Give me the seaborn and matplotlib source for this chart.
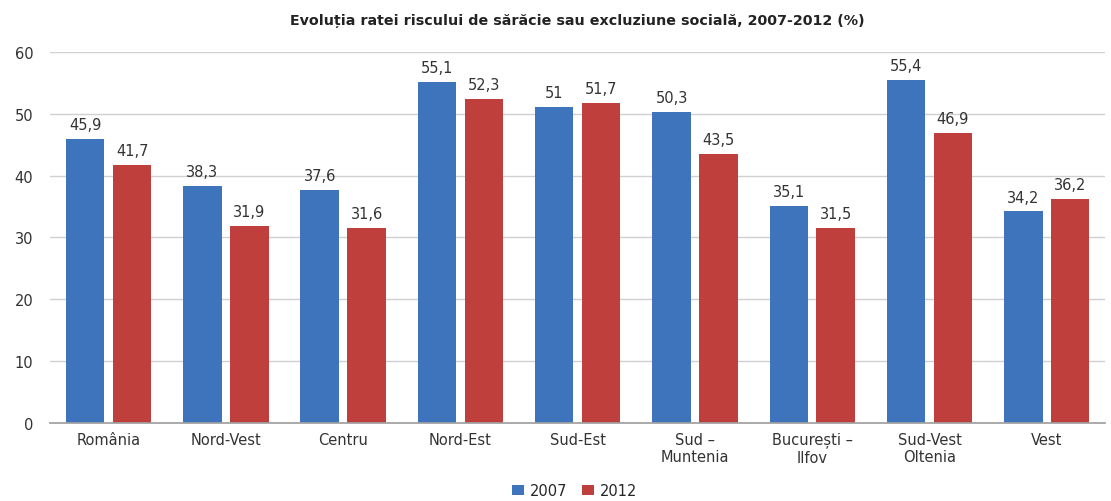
import pandas as pd
import seaborn as sns
import matplotlib.pyplot as plt

regions = ['România', 'Nord-Vest', 'Centru', 'Nord-Est', 'Sud-Est',
           'Sud –\nMuntenia', 'București –\nIlfov', 'Sud-Vest\nOltenia', 'Vest']
val_2007 = [45.9, 38.3, 37.6, 55.1, 51.0, 50.3, 35.1, 55.4, 34.2]
val_2012 = [41.7, 31.9, 31.6, 52.3, 51.7, 43.5, 31.5, 46.9, 36.2]
years = ['2007', '2012']
colors = ['#3D74BB', '#BF3F3C']

df = pd.concat([
    pd.DataFrame({'Regiune': regions, 'An': years[0], 'Rata': val_2007}),
    pd.DataFrame({'Regiune': regions, 'An': years[1], 'Rata': val_2012}),
])

sns.set_theme(style='white')
plt.rcParams['font.family'] = ['DejaVu Sans']

fig = plt.figure(figsize=(11.11, 5.02), dpi=100)
ax = fig.add_axes([0.045, 0.155, 0.95, 0.74])
sns.barplot(data=df, x='Regiune', y='Rata', hue='An', palette=colors,
            width=0.8, gap=0.18, linewidth=0, ax=ax, saturation=1)

for cont in ax.containers:
    labels = [f'{v:g}'.replace('.', ',') for v in cont.datavalues]
    ax.bar_label(cont, labels=labels, padding=5, fontsize=10.5, color='#333333')

ax.set_ylim(0, 60)
ax.set_yticks(range(0, 61, 10))
ax.yaxis.grid(True, color='#D0D0D0', linewidth=1)
ax.set_axisbelow(True)
ax.set_xlim(-0.5, len(regions) - 0.5)
for side in ['left', 'right', 'top']:
    ax.spines[side].set_visible(False)
ax.spines['bottom'].set_color('#A0A0A0')
ax.tick_params(axis='both', length=0, labelsize=10.5, colors='#333333')
ax.tick_params(axis='y', pad=12)
ax.tick_params(axis='x', pad=6)
ax.set_xlabel('')
ax.set_ylabel('')
ax.set_title('Evoluția ratei riscului de sărăcie sau excluziune socială, 2007-2012 (%)',
             fontsize=10.3, fontweight='bold', pad=20, color='#222222')

ax.legend(loc='upper center', bbox_to_anchor=(0.497, -0.125), ncol=2, frameon=False,
          fontsize=10.5, handlelength=0.8, handleheight=0.7, columnspacing=1.0,
          handletextpad=0.4)

fig.savefig('out.png', dpi=100)
